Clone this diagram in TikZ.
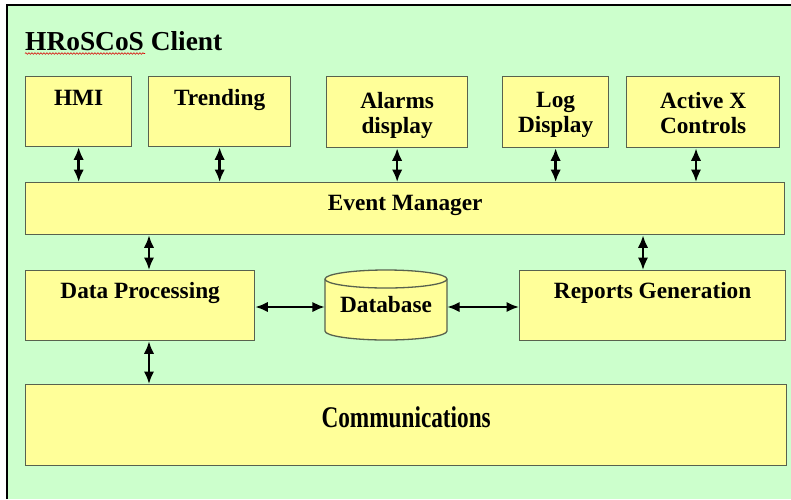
\documentclass[tikz,border=0pt]{standalone}
\usepackage{fontspec}
\setmainfont{Liberation Serif}[BoldFont={Liberation Serif Bold}]
\newfontfamily\boldserif{Liberation Serif Bold}
\usetikzlibrary{arrows.meta,decorations.pathmorphing,calc}
\definecolor{bggreen}{RGB}{204,255,204}
\definecolor{boxyellow}{RGB}{255,255,153}
\definecolor{boxline}{RGB}{88,98,78}
\tikzset{
  box/.style={draw=boxline, line width=1.3pt, fill=boxyellow, anchor=north west, inner sep=0pt},
  lbl/.style={font=\boldserif\fontsize{23.3}{25}\selectfont, inner sep=0pt, align=center, text=black},
  tipshape/.tip={Latex[length=12.5pt,width=10.5pt]},
  biarrow/.style={tipshape-tipshape, line width=2.4pt, black},
}
\begin{document}
\begin{tikzpicture}[x=1pt,y=-1pt]
\useasboundingbox (0,0) rectangle (791,499);
\fill[bggreen] (7,5) rectangle (791,499);
\draw[black, line width=1.3pt] (7,499) -- (7,5) -- (791,5);

\node[anchor=base west, inner sep=0pt, font=\boldserif\fontsize{27.4}{30}\selectfont] (title) at (25,50) {HRoSCoS Client};
\draw[red!85!black, line width=0.6pt, decorate, decoration={snake, amplitude=0.8pt, segment length=3pt}] ($(title.base west)+(0,3.5)$) -- ++(120,0);

% top row
\node[box, minimum width=106pt, minimum height=70pt, label={[lbl,anchor=base,yshift=-29pt]north:HMI}] (hmi) at (25,76) {};
\node[box, minimum width=142pt, minimum height=70pt, label={[lbl,anchor=base,yshift=-29pt]north:Trending}] (trd) at (148,76) {};
\node[box, minimum width=141pt, minimum height=71pt, label={[lbl,anchor=north,yshift=-16pt]north:Alarms\\display}] (alm) at (326,76) {};
\node[box, minimum width=106pt, minimum height=71pt, label={[lbl,anchor=north,yshift=-16pt]north:Log\\Display}] (log) at (502,76) {};
\node[box, minimum width=153pt, minimum height=71pt, label={[lbl,anchor=north,yshift=-16pt]north:Active X\\Controls}] (act) at (626,76) {};

% event manager
\node[box, minimum width=759pt, minimum height=52pt, label={[lbl,anchor=base,yshift=-28pt]north:Event Manager}] (em) at (25,182) {};

% middle row
\node[box, minimum width=229pt, minimum height=70pt, label={[lbl,anchor=base,yshift=-28pt]north:Data Processing}] (dp) at (25,270) {};
\node[box, minimum width=266pt, minimum height=70pt, label={[lbl,anchor=base,yshift=-28pt]north:Reports Generation}] (rg) at (519,270) {};

% database cylinder
\draw[draw=boxline, line width=1.3pt, fill=boxyellow] (325,279) -- (325,331)
  arc[start angle=180, end angle=360, x radius=61pt, y radius=9pt] -- (447,279)
  arc[start angle=0, end angle=180, x radius=61pt, y radius=9pt] -- cycle;
\draw[draw=boxline, line width=1.3pt] (325,279) arc[start angle=180, end angle=360, x radius=61pt, y radius=9pt];
\node[lbl, minimum width=122pt, minimum height=70pt] (db) at (386,305) {Database};

% communications
\node[box, minimum width=761pt, minimum height=81pt, label={[lbl,anchor=base,yshift=-43pt]north:{\fontsize{30}{32}\selectfont\scalebox{0.775}[1]{Communications}}}] (com) at (25,384) {};

% connectors
\coordinate (ax) at (696,0);
\coordinate (c1) at (149,0);
\coordinate (c2) at (643,0);
\coordinate (c3) at (0,307);
\draw[biarrow] (hmi.south) -- (hmi.south |- em.north);
\draw[biarrow] (trd.south) -- (trd.south |- em.north);
\draw[biarrow] (alm.south) -- (alm.south |- em.north);
\draw[biarrow] (log.south) -- (log.south |- em.north);
\draw[biarrow] (act.south -| ax) -- (em.north -| ax);
\draw[biarrow] (em.south -| c1) -- (dp.north -| c1);
\draw[biarrow] (em.south -| c2) -- (rg.north -| c2);
\draw[biarrow] (dp.south -| c1) -- (com.north -| c1);
\draw[biarrow] (dp.east |- c3) -- (db.west |- c3);
\draw[biarrow] (db.east |- c3) -- (rg.west |- c3);
\end{tikzpicture}
\end{document}
